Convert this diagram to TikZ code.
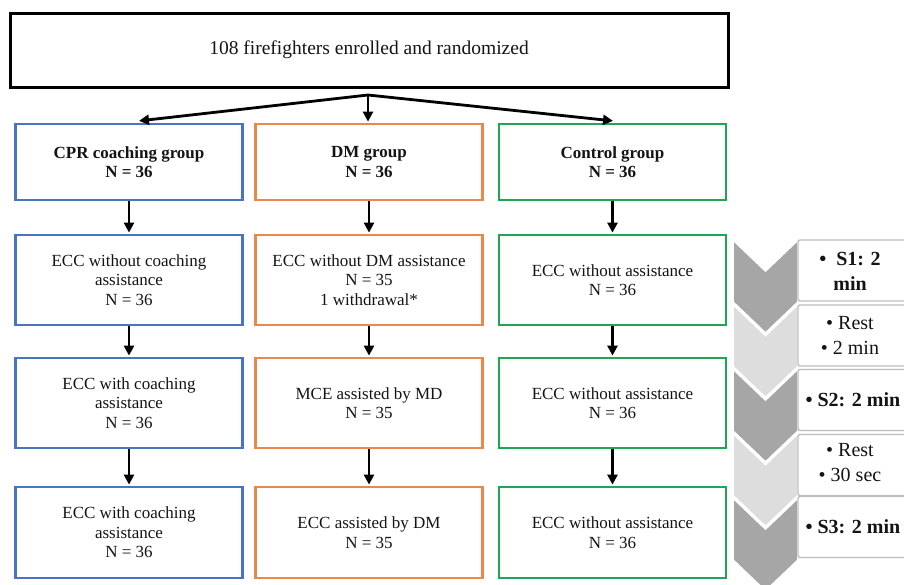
\documentclass[tikz,border=0pt]{standalone}
\usepackage{fontspec}
\setmainfont{Liberation Serif}
\usetikzlibrary{arrows.meta}
\definecolor{cblue}{HTML}{4A74C0}
\definecolor{corange}{HTML}{E8894A}
\definecolor{cgreen}{HTML}{1FA553}
\definecolor{chdark}{HTML}{A6A6A6}
\definecolor{chlight}{HTML}{DDDDDD}
\definecolor{rbox}{HTML}{BDBDBD}
\tikzset{
  box/.style={draw, line width=2.8pt, minimum width=227pt, align=center, inner sep=2pt,
    font=\fontsize{17}{19.5}\selectfont, text=black!92},
  bluebox/.style={box, draw=cblue},
  orangebox/.style={box, draw=corange},
  greenbox/.style={box, draw=cgreen},
  topbox/.style={draw, line width=3pt, minimum width=718pt, minimum height=74pt,
    font=\fontsize{19.5}{22}\selectfont, text=black!92},
  arr/.style={line width=2.8pt, -{Triangle[length=10pt,width=10pt]}, shorten >=1pt},
  chev/.style={draw=white, line width=1.6pt, line join=miter},
  sbox/.style={draw=rbox, line width=1.4pt, rounded corners=2pt, fill=white,
    minimum width=120pt, minimum height=61pt},
  stext/.style={align=center, font=\fontsize{20}{25}\selectfont, text=black!92},
}
\begin{document}
\begin{tikzpicture}[x=1pt,y=-1pt]
\useasboundingbox (0,0) rectangle (904,584);
\clip (0,0) rectangle (904,584);
\fill[white] (0,0) rectangle (904,584);

% top
\node[topbox] (top) at (369,50) {108 firefighters enrolled and randomized};
\coordinate (j) at (368,95);

% row 1
\node[bluebox, minimum height=76pt] (b1) at (129,162) {\textbf{CPR coaching group}\\\textbf{N = 36}};
\node[orangebox, minimum height=76pt] (o1) at (369,162) {\textbf{DM group}\\\textbf{N = 36}};
\node[greenbox, minimum height=76pt] (g1) at (612.5,162) {\textbf{Control group}\\\textbf{N = 36}};

% row 2
\node[bluebox, minimum height=90pt] (b2) at (129,280) {ECC without coaching\\assistance\\N = 36};
\node[orangebox, minimum height=90pt] (o2) at (369,280) {ECC without DM assistance\\N = 35\\1 withdrawal*};
\node[greenbox, minimum height=90pt] (g2) at (612.5,280) {ECC without assistance\\N = 36};

% row 3
\node[bluebox, minimum height=90pt] (b3) at (129,403) {ECC with coaching\\assistance\\N = 36};
\node[orangebox, minimum height=90pt] (o3) at (369,403) {MCE assisted by MD\\N = 35};
\node[greenbox, minimum height=90pt] (g3) at (612.5,403) {ECC without assistance\\N = 36};

% row 4
\node[bluebox, minimum height=91pt] (b4) at (129,532.5) {ECC with coaching\\assistance\\N = 36};
\node[orangebox, minimum height=91pt] (o4) at (369,532.5) {ECC assisted by DM\\N = 35};
\node[greenbox, minimum height=91pt] (g4) at (612.5,532.5) {ECC without assistance\\N = 36};

% arrows from top
\coordinate (jl) at (138,121);
\coordinate (jr) at (614,121);
\draw[arr] (j) -- (jl);
\draw[arr] (j) -- (j |- o1.north);
\draw[arr] (j) -- (jr);

% column arrows
\foreach \c in {b,o,g}{
  \draw[arr] (\c1.south) -- (\c2.north);
  \draw[arr] (\c2.south) -- (\c3.north);
  \draw[arr] (\c3.south) -- (\c4.north);
}

% chevrons
\foreach \i/\col in {0/chdark,1/chlight,2/chdark,3/chlight,4/chdark}{
  \pgfmathsetmacro{\T}{240+64.5*\i}
  \filldraw[chev, fill=\col] (733,\T) -- (765.5,\T+31) -- (798,\T) -- (798,\T+62)
     -- (765.5,\T+93) -- (733,\T+62) -- cycle;
}

% step boxes (right edges run past the picture)
\node[sbox] (s1) at (858,270.5) {};
\node[sbox] (s2) at (858,335.5) {};
\node[sbox] (s3) at (858,400) {};
\node[sbox] (s4) at (858,465) {};
\node[sbox] (s5) at (858,527) {};
\node[stext] (s1t) at (850,271) {\textbf{\textbullet\ \ S1: 2}\\\textbf{min}};
\node[stext] (s2t) at (850,335.5) {\textbullet\ Rest\\\textbullet\ 2 min};
\node[stext, anchor=west] (s3t) at (802,400) {\textbf{\textbullet\ S2: 2 min}};
\node[stext] (s4t) at (850,463) {\textbullet\ Rest\\\textbullet\ 30 sec};
\node[stext, anchor=west] (s5t) at (802,527) {\textbf{\textbullet\ S3: 2 min}};
\end{tikzpicture}
\end{document}
